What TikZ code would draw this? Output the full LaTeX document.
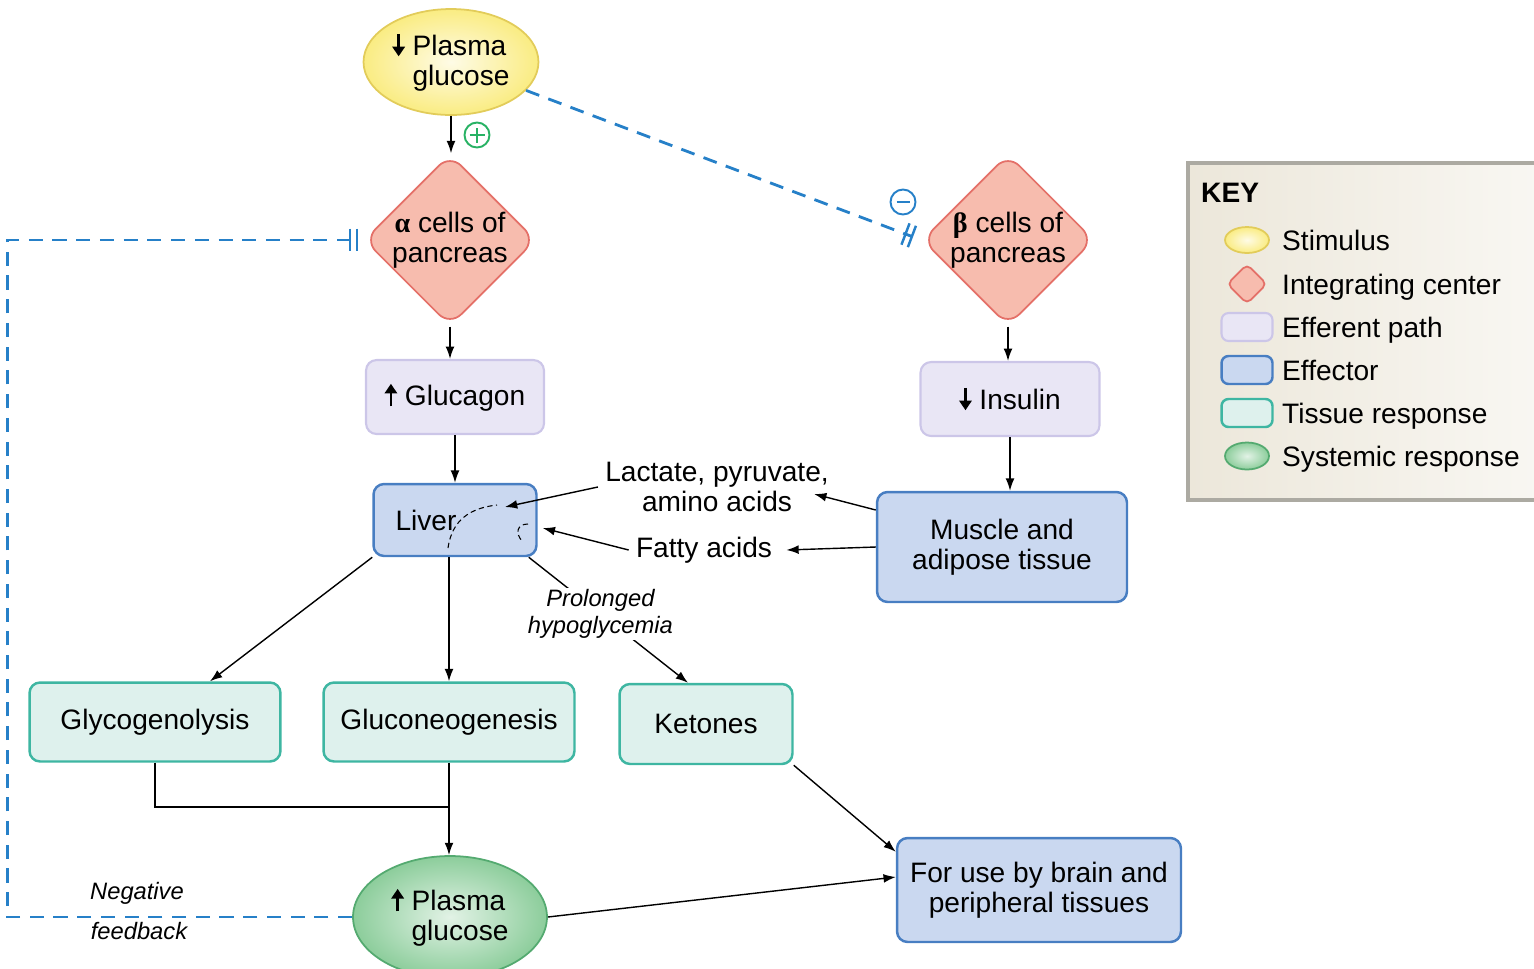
\documentclass[tikz,border=0pt]{standalone}
\usepackage{amsmath,amssymb}
\usepackage{fontspec}
\setmainfont{Liberation Sans}
\newfontfamily\grk{Liberation Serif}
\usepackage{tikz}
\usetikzlibrary{arrows.meta,positioning,shapes.geometric,calc}

\definecolor{stimfill}{RGB}{250,236,130}
\definecolor{stimdraw}{RGB}{226,204,90}
\definecolor{intfill}{RGB}{247,188,174}
\definecolor{intdraw}{RGB}{228,112,104}
\definecolor{efffill}{RGB}{233,230,245}
\definecolor{effdraw}{RGB}{204,198,232}
\definecolor{ectfill}{RGB}{202,216,240}
\definecolor{ectdraw}{RGB}{72,126,194}
\definecolor{tisfill}{RGB}{222,241,237}
\definecolor{tisdraw}{RGB}{62,182,162}
\definecolor{sysfill}{RGB}{140,205,155}
\definecolor{sysdraw}{RGB}{84,170,112}
\definecolor{fbblue}{RGB}{38,128,200}
\definecolor{plusgreen}{RGB}{40,178,100}
\definecolor{keyfill}{RGB}{236,231,218}
\definecolor{keydraw}{RGB}{172,170,162}

\newcommand{\uparr}{\tikz[baseline=0pt]\draw[line width=1.5pt,-{Triangle[length=5.5pt,width=7pt]}] (0,-0.02em) -- (0,0.78em);}
\newcommand{\dnarr}{\tikz[baseline=0pt]\draw[line width=1.5pt,-{Triangle[length=5.5pt,width=7pt]}] (0,0.78em) -- (0,-0.02em);}

\begin{document}
\begin{tikzpicture}[x=0.02cm,y=-0.02cm,
  font=\fontsize{16}{17}\selectfont,
  arr/.style={-{Latex[length=7pt,width=5pt]},line width=0.8pt},
  fb/.style={fbblue,line width=1.6pt,dash pattern=on 8pt off 5.5pt},
  block/.style={-{Bar[width=13pt,line width=1.4pt,sep=2.5pt]Bar[width=13pt,line width=1.4pt]}},
  stim/.style={ellipse,draw=stimdraw,line width=1pt,inner color=stimfill!20!white,outer color=stimfill,inner sep=0pt,align=left},
  intc/.style={diamond,draw=intdraw,fill=intfill,line width=1pt,rounded corners=9pt,minimum size=3.2cm,inner sep=0pt,align=center},
  efp/.style={rectangle,rounded corners=6pt,draw=effdraw,fill=efffill,line width=1.2pt},
  ect/.style={rectangle,rounded corners=6pt,draw=ectdraw,fill=ectfill,line width=1.4pt},
  tis/.style={rectangle,rounded corners=6pt,draw=tisdraw,fill=tisfill,line width=1.4pt},
  sys/.style={ellipse,draw=sysdraw,line width=1pt,inner color=sysfill!25!white,outer color=sysfill,inner sep=0pt,align=left},
  txt/.style={inner sep=4pt,align=center},
  note/.style={inner sep=1pt,align=center,font=\itshape\fontsize{13.5}{15}\selectfont},
  kstim/.style={stim,minimum width=0.88cm,minimum height=0.52cm},
  kint/.style={intc,minimum size=0.8cm,rounded corners=3pt},
  kefp/.style={efp,minimum width=1.02cm,minimum height=0.56cm,rounded corners=4pt},
  kect/.style={ect,minimum width=1.02cm,minimum height=0.56cm,rounded corners=4pt},
  ktis/.style={tis,minimum width=1.02cm,minimum height=0.56cm,rounded corners=4pt},
  ksys/.style={sys,minimum width=0.88cm,minimum height=0.54cm}]
  \useasboundingbox (0,0) rectangle (1534,968);

  % key
  \fill[left color=keyfill,right color=keyfill!35!white] (1188,163) rectangle (1534,500);
  \draw[keydraw,line width=2pt] (1534,163) -- (1188,163) -- (1188,500) -- (1534,500);
  \node[anchor=west,font=\bfseries\fontsize{16}{17}\selectfont] (keytitle) at (1195,193) {KEY};
  \foreach \y/\s/\t [count=\i] in {240/kstim/Stimulus,284/kint/Integrating center,327/kefp/Efferent path,
      370/kect/Effector,413/ktis/Tissue response,456/ksys/Systemic response} {
    \node[\s] (sym\i) at (1247,\y) {};
    \node[anchor=base west] (lab\i) at (1276,\y+10) {\t};
  }

  % nodes
  \node[stim,minimum width=3.5cm,minimum height=2.12cm] (stim) at (451,62) {\dnarr~Plasma\\\hphantom{\dnarr~}glucose};
  \node[intc] (alpha) at (450,240) {{\grk\bfseries α} cells of\\pancreas};
  \node[intc] (beta) at (1008,240) {{\grk\bfseries β} cells of\\pancreas};
  \node[efp,minimum width=3.56cm,minimum height=1.48cm] (glucagon) at (455,397) {\uparr~Glucagon};
  \node[efp,minimum width=3.58cm,minimum height=1.48cm] (insulin) at (1010,399) {\dnarr~Insulin};
  \node[ect,minimum width=3.26cm,minimum height=1.44cm,text width=2.38cm,inner xsep=0.44cm,align=left] (liver) at (455,520) {Liver};
  \node[ect,minimum width=5cm,minimum height=2.2cm,align=center] (muscle) at (1002,547) {Muscle and\\adipose tissue};
  \node[txt] (lac) at (717,487) {Lactate, pyruvate,\\amino acids};
  \node[txt] (fatty) at (704,550) {Fatty acids};
  \node[tis,minimum width=5.02cm,minimum height=1.58cm] (glyco) at (155,722) {Glycogenolysis};
  \node[tis,minimum width=5.02cm,minimum height=1.58cm] (gluco) at (449,722) {Gluconeogenesis};
  \node[tis,minimum width=3.46cm,minimum height=1.6cm] (ketones) at (706,724) {Ketones};
  \node[sys,minimum width=3.88cm,minimum height=2.44cm] (glucoseup) at (450,917) {\uparr~Plasma\\\hphantom{\uparr~}glucose};
  \node[ect,minimum width=5.68cm,minimum height=2.08cm,align=center] (foruse) at (1039,890) {For use by brain and\\peripheral tissues};
  \node[circle,draw=plusgreen,line width=1.1pt,minimum size=0.5cm,inner sep=0pt] (plus) at (477,135) {};
  \node[circle,draw=fbblue,line width=1.1pt,minimum size=0.5cm,inner sep=0pt] (minus) at (903,202) {};
  \draw[plusgreen,line width=1.1pt] ([xshift=-0.15cm]plus.center) -- ([xshift=0.15cm]plus.center)
    ([yshift=-0.15cm]plus.center) -- ([yshift=0.15cm]plus.center);
  \draw[fbblue,line width=1.1pt] ([xshift=-0.13cm]minus.center) -- ([xshift=0.13cm]minus.center);

  % connectors
  \draw[arr] (stim.south) -- (stim.south |- alpha.north);
  \draw[arr] (alpha.south) -- (alpha.south |- glucagon.north);
  \draw[arr] (glucagon.south) -- (glucagon.south |- liver.north);
  \draw[arr] (beta.south) -- (beta.south |- insulin.north);
  \draw[arr] (insulin.south) -- (insulin.south |- muscle.north);
  \draw[arr] ([yshift=0.74cm]muscle.west) -- ([xshift=-0.44cm,yshift=-0.14cm]lac.east);
  \draw[arr] (lac.west) -- ([xshift=1cm,yshift=0.26cm]liver.center);
  \draw[arr] (muscle.west) -- ([xshift=0.14cm]fatty.east);
  \draw[arr] (fatty.west) -- ([xshift=0.1cm,yshift=-0.16cm]liver.east);
  \draw[line width=0.6pt,dash pattern=on 3pt off 2pt] (448,548) .. controls (452,520) and (470,508) .. (497,505);
  \draw[line width=0.6pt,dash pattern=on 3pt off 2pt] (528,524) .. controls (517,524) and (515,533) .. (522,541);
  \draw[arr] (liver.south west) -- ([xshift=1.1cm]glyco.north);
  \draw[arr] (liver.south -| gluco.north) -- (gluco.north);
  \draw[arr] ([xshift=-0.18cm]liver.south east) -- node[pos=0.45,note,fill=white] (prolonged) {Prolonged\\hypoglycemia} ([xshift=-0.36cm]ketones.north);
  \coordinate (merge) at (gluco.south |- 0,807);
  \draw[line width=0.8pt] (glyco.south) |- (merge);
  \draw[arr] (gluco.south) -- (gluco.south |- glucoseup.north);
  \draw[arr] (ketones.south east) -- ([yshift=-0.3cm]foruse.north west);
  \draw[arr] (glucoseup.east) -- ([yshift=0.26cm]foruse.west);

  % feedback
  \draw[fb,block,shorten >=5pt] (stim) -- (beta.west);
  \draw[fb,block,shorten >=3pt] (glucoseup.west) -- ++(-345,0) |- (alpha.west);
  \node[note] (negl) at (137,893) {Negative};
  \node[note] (fbl) at (139,931) {feedback};
\end{tikzpicture}
\end{document}
